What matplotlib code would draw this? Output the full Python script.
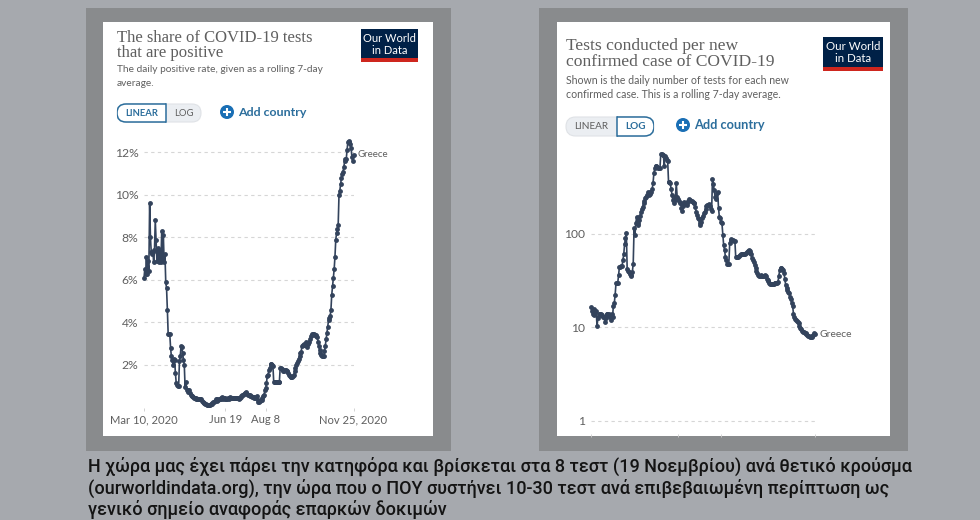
import matplotlib
matplotlib.use("Agg")
import matplotlib.pyplot as plt
import numpy as np
import pandas as pd
from matplotlib.patches import Circle, FancyBboxPatch, Rectangle
from matplotlib.ticker import FixedLocator, FuncFormatter, NullFormatter, NullLocator

W, H = 980, 520

days = pd.date_range("2020-03-10", "2020-11-25", freq="D")
x_ticks = pd.to_datetime(["2020-03-10", "2020-06-19", "2020-08-08", "2020-11-25"])
x_tick_labels = ["Mar 10, 2020", "Jun 19", "Aug 8", "Nov 25, 2020"]

# share of tests that are positive, percent, one value per day
positive_rate = [
    6.1, 6.5, 6.3, 7.1, 6.3, 6.9, 6.4, 9.6, 8.0, 7.3,
    7.2, 7.3, 6.85, 7.4, 8.8, 7.9, 6.9, 7.5, 7.4, 6.85,
    7.3, 6.85, 8.3, 6.9, 8.1, 6.85, 7.2, 5.9, 5.6, 4.6,
    3.45, 3.45, 3.45, 2.8, 2.4, 2.25, 2.0, 2.3, 2.25, 1.6,
    1.15, 1.05, 1.0, 1.0, 2.2, 2.4, 2.9, 2.85, 2.55, 2.25,
    2.0, 0.95, 1.2, 0.8, 0.75, 0.8, 0.8, 0.7, 0.6, 0.55,
    0.55, 0.5, 0.45, 0.45, 0.45, 0.42, 0.42, 0.42, 0.42, 0.42,
    0.42, 0.4, 0.32, 0.25, 0.22, 0.2, 0.17, 0.15, 0.12, 0.12,
    0.12, 0.12, 0.13, 0.15, 0.18, 0.2, 0.25, 0.25, 0.3, 0.4,
    0.3, 0.4, 0.35, 0.4, 0.42, 0.45, 0.4, 0.5, 0.42, 0.45,
    0.42, 0.45, 0.42, 0.42, 0.45, 0.42, 0.45, 0.5, 0.45, 0.45,
    0.45, 0.45, 0.45, 0.45, 0.45, 0.45, 0.45, 0.45, 0.42, 0.45,
    0.5, 0.55, 0.6, 0.6, 0.65, 0.7, 0.72, 0.68, 0.65, 0.58,
    0.58, 0.6, 0.55, 0.52, 0.5, 0.48, 0.48, 0.45, 0.45, 0.5,
    0.55, 0.35, 0.25, 0.25, 0.3, 0.33, 0.35, 0.45, 0.55, 0.6,
    0.8, 0.9, 1.15, 1.5, 1.55, 1.75, 1.85, 2.05, 2.05, 2.0,
    1.95, 1.2, 1.2, 1.2, 1.2, 1.2, 1.2, 1.2, 1.2, 1.85,
    1.85, 1.8, 1.75, 1.7, 1.7, 1.75, 1.75, 1.7, 1.7, 1.6,
    1.55, 1.5, 1.45, 1.45, 1.45, 1.5, 1.55, 1.7, 1.85, 2.0,
    2.1, 2.2, 2.3, 2.4, 2.55, 2.6, 2.9, 2.95, 2.95, 3.0,
    2.95, 3.1, 2.85, 3.0, 3.05, 3.1, 3.2, 3.35, 3.4, 3.45,
    3.45, 3.45, 3.4, 3.4, 3.35, 3.3, 3.1, 2.9, 2.7, 2.55,
    2.45, 2.4, 2.4, 2.4, 2.65, 2.9, 3.2, 3.5, 3.8, 4.1,
    4.2, 4.3, 4.6, 5.3, 5.7, 6.1, 6.5, 7.1, 7.9, 8.2,
    8.4, 8.6, 10.0, 10.2, 10.5, 10.8, 11.0, 11.1, 11.3, 11.6,
    11.7, 11.7, 12.1, 12.5, 12.55, 12.5, 12.4, 12.2, 11.8, 11.6,
    11.9,
]

# tests per new confirmed case, one value per day
tests_per_case = [
    16.5, 15, 14, 15.5, 13.5, 14.5, 15, 10.3, 12.5, 14,
    14, 13.5, 14, 13.5, 13, 13, 11.5, 12.5, 14, 14,
    13.5, 14, 13, 12, 14, 13, 17, 18, 22, 29.5,
    29.5, 29.5, 36, 44, 44, 45, 45, 52, 60, 78,
    89, 103, 41.5, 40, 39, 37, 35, 36, 39, 48,
    114, 97, 129, 152, 124, 130, 140, 155, 172, 185,
    195, 211, 225, 239, 250, 259, 281, 259, 265, 277,
    280, 298, 350, 442, 500, 533, 530, 519, 510, 505,
    500, 710, 705, 700, 695, 530, 680, 650, 610, 600,
    360, 355, 345, 300, 259, 230, 211, 230, 249, 345,
    249, 233, 225, 211, 211, 190, 176, 200, 220, 215,
    210, 205, 215, 225, 233, 230, 225, 224, 218, 214,
    214, 195, 172, 160, 146, 142, 130, 124, 135, 146,
    155, 165, 172, 185, 199, 203, 205, 208, 200, 185,
    176, 382, 340, 293, 250, 233, 270, 281, 190, 150,
    146, 135, 129, 98, 75, 67, 57, 52, 47, 47,
    48, 79, 86, 88, 86, 85, 84, 84, 56, 56,
    57, 57, 58, 59, 60, 60, 61, 60, 60, 60,
    62, 64, 66, 67, 66, 62, 60, 55, 52, 50,
    46, 43, 40, 38, 36, 35, 35, 36, 35, 35,
    35, 35, 36, 35, 33, 32, 31, 30, 29, 29,
    29, 29, 29, 29.5, 29.5, 30, 30, 30.6, 35, 41,
    43, 43, 42, 41, 38, 33, 28, 26, 25, 24,
    23, 21, 20, 18, 17, 14, 13, 12.2, 12, 11.8,
    11.5, 11, 10.3, 9.7, 9.5, 9.2, 9, 8.9, 8.7, 8.6,
    8.5, 8.3, 8.1, 8, 7.9, 7.9, 7.9, 8, 8.2, 8.6,
    8.5,
]

pct_ticks = [2, 4, 6, 8, 10, 12]
log_ticks = [1, 10, 100]

caption = [
    "Η χώρα μας έχει πάρει την κατηφόρα και βρίσκεται στα 8 τεστ (19 Νοεμβρίου) ανά θετικό κρούσμα",
    "(ourworldindata.org), την ώρα που ο ΠΟΥ συστήνει 10-30 τεστ ανά επιβεβαιωμένη περίπτωση ως",
    "γενικό σημείο αναφοράς επαρκών δοκιμών",
]

BG = "#a6a9ae"
FRAME = "#898b8d"
GREY = "#5f5f5f"
LINE = "#33435c"
BLUE = "#2c6e9c"
PLUS = "#1a6fb5"

plt.rcParams["font.family"] = ["Lato", "DejaVu Sans"]

fig = plt.figure(figsize=(W / 100, H / 100), dpi=100, facecolor=BG)

# whole-figure layer in pixel units for the cards and the controls
bg = fig.add_axes([0, 0, 1, 1], zorder=0)
bg.set_xlim(0, W)
bg.set_ylim(H, 0)
bg.axis("off")


def card(x0, x1, fx0, fx1):
    bg.add_patch(Rectangle((fx0, 8), fx1 - fx0, 443, fc=FRAME, ec="none"))
    bg.add_patch(Rectangle((x0, 22), x1 - x0, 414, fc="white", ec="none"))


def logo(x0, x1, y0, y1, size, line_gap):
    bg.add_patch(Rectangle((x0, y0), x1 - x0, y1 - y0, fc="#002147", ec="none"))
    bg.add_patch(Rectangle((x0, y1 - 4), x1 - x0, 4, fc="#ce261e", ec="none"))
    bg.text((x0 + x1) / 2, y0 + 9, "Our World", color="white", fontsize=size, ha="center", va="center")
    bg.text((x0 + x1) / 2, y0 + 9 + line_gap, "in Data", color="white", fontsize=size, ha="center", va="center")


def toggle(x0, xm, x1, y0, y1, linear_on, size):
    h = y1 - y0
    pill = dict(boxstyle=f"round,pad=0,rounding_size={h / 2}", mutation_aspect=1)
    bg.add_patch(FancyBboxPatch((x0, y0), x1 - x0, h, fc="#ebeef2", ec="#dfe2e6", lw=0.8, **pill))
    sx0, sx1 = (x0, xm) if linear_on else (xm, x1)
    outline = FancyBboxPatch((x0, y0), x1 - x0, h, fc="white", ec=BLUE, lw=1.1, zorder=2, **pill)
    bg.add_patch(outline)
    outline.set_clip_path(Rectangle((sx0, y0 - 2), sx1 - sx0, h + 4, transform=bg.transData))
    bg.plot([xm, xm], [y0, y1], color=BLUE, lw=1.1, zorder=3)
    ym = (y0 + y1) / 2 + 0.3
    bg.text((x0 + xm) / 2, ym, "LINEAR", fontsize=size, ha="center", va="center", zorder=4,
            color=BLUE if linear_on else GREY, fontweight="bold" if linear_on else "normal")
    bg.text((xm + x1) / 2, ym, "LOG", fontsize=size, ha="center", va="center", zorder=4,
            color=GREY if linear_on else BLUE, fontweight="normal" if linear_on else "bold")


def add_country(cx, cy, tx, size):
    bg.add_patch(Circle((cx, cy), 7, fc=PLUS, ec="none"))
    bg.plot([cx - 4, cx + 4], [cy, cy], color="white", lw=1.5, solid_capstyle="butt")
    bg.plot([cx, cx], [cy - 4, cy + 4], color="white", lw=1.5, solid_capstyle="butt")
    bg.text(tx, cy, "Add country", color=BLUE, fontsize=size, fontweight="bold", va="center")


def headings(x, title, title_y, title_size, sub, sub_y, sub_size):
    for txt, y in zip(title, title_y):
        bg.text(x, y, txt, color=GREY, fontsize=title_size, family="Liberation Serif", va="center")
    for txt, y in zip(sub, sub_y):
        bg.text(x, y, txt, color=GREY, fontsize=sub_size, va="center")


def chart_axes(x0, x1, y_bottom, y_top):
    ax = fig.add_axes([x0 / W, 1 - y_bottom / H, (x1 - x0) / W, (y_bottom - y_top) / H], zorder=1)
    ax.patch.set_alpha(0)
    for s in ax.spines.values():
        s.set_visible(False)
    ax.set_xlim(days[0], days[-1])
    ax.set_xticks(x_ticks)
    ax.tick_params(axis="x", length=2.5, width=0.6, color="#cccccc", labelcolor=GREY, labelsize=8.1, pad=2.5)
    ax.tick_params(axis="y", length=0, labelcolor=GREY, labelsize=8.7, pad=4)
    ax.yaxis.grid(True, color="#d6d6d6", lw=0.8, ls=(0, (3, 3)))
    ax.xaxis.grid(False)
    ax.set_axisbelow(True)
    return ax


def draw_series(ax, values):
    ax.plot(days, values, color=LINE, lw=1.2, marker="o", ms=3.5, mew=0, clip_on=False, zorder=3)


card(103, 433, 86, 451)
card(557, 890, 539, 908)

logo(361, 418, 29, 62, 8.0, 12)
logo(823, 883, 37, 71, 8.3, 13)

headings(117, ["The share of COVID-19 tests", "that are positive"], [38, 53], 12,
         ["The daily positive rate, given as a rolling 7-day", "average."], [70, 83], 7.3)
headings(566, ["Tests conducted per new", "confirmed case of COVID-19"], [46, 62], 12.6,
         ["Shown is the daily number of tests for each new", "confirmed case. This is a rolling 7-day average."], [81, 94], 7.6)

toggle(117, 166, 201, 104, 122, True, 6.8)
toggle(566, 617, 654, 117, 136, False, 7.2)
add_country(227, 112, 238, 8.9)
add_country(683, 125, 694, 9.2)

# positive share, linear scale
ax1 = chart_axes(144, 353.5, 407.5, 135)
ax1.set_ylim(0, 12.82)
ax1.set_yticks(pct_ticks)
ax1.set_yticklabels([f"{v}%" for v in pct_ticks])
ax1.set_xticklabels(x_tick_labels)
draw_series(ax1, positive_rate)
ax1.annotate("Greece", (days[-1], positive_rate[-1]), xytext=(3, 0), textcoords="offset points",
             fontsize=7, color=GREY, va="center", annotation_clip=False)

# tests per case, log scale, tick labels fall off the bottom of the card
ax2 = chart_axes(591, 815, 434, 135)
ax2.set_yscale("log")
ax2.set_ylim(10 ** -0.142, 10 ** 3.056)
ax2.yaxis.set_major_locator(FixedLocator(log_ticks))
ax2.yaxis.set_major_formatter(FuncFormatter(lambda v, _: f"{v:g}"))
ax2.yaxis.set_minor_locator(NullLocator())
ax2.xaxis.set_major_formatter(NullFormatter())
draw_series(ax2, tests_per_case)
ax2.annotate("Greece", (days[-1], tests_per_case[-1]), xytext=(3, -0.5), textcoords="offset points",
             fontsize=7.5, color=GREY, va="center", annotation_clip=False)

for line, y in zip(caption, [466, 488, 509]):
    fig.text(88 / W, 1 - y / H, line, family=["Roboto", "DejaVu Sans"], fontweight="medium",
             fontsize=13, color="#141414", va="center")

fig.savefig("out.png", dpi=100, facecolor=BG)
